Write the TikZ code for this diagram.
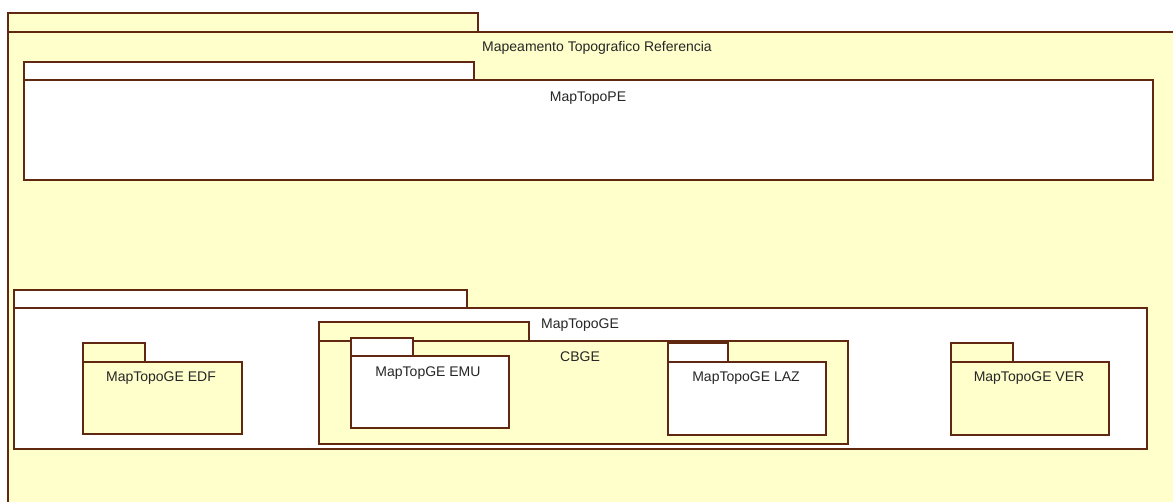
\documentclass[tikz,border=0pt]{standalone}
\usepackage{fontspec}
\setmainfont{Liberation Sans}
\definecolor{pk}{RGB}{255,255,204}
\definecolor{ln}{RGB}{96,40,16}
\tikzset{
  box/.style={draw=ln, line width=1.2pt, anchor=north west, inner sep=0pt, outer sep=0pt},
  yb/.style={box, fill=pk},
  wb/.style={box, fill=white},
  lbl/.style={font=\fontsize{14}{16}\selectfont, text=black!85, inner sep=0pt}
}
\begin{document}
\begin{tikzpicture}[x=1pt,y=-1pt]
\useasboundingbox (0,0) rectangle (1173,502);
\fill[white] (0,0) rectangle (1173,502);
\clip (0,0) rectangle (1173,502);
% outer package
\node[yb, minimum width=470pt, minimum height=19pt] (outtab) at (8,13) {};
\node[yb, minimum width=1182pt, minimum height=488pt] (out) at (8,32) {};
% MapTopoPE
\node[wb, minimum width=450pt, minimum height=18pt] (petab) at (24,62) {};
\node[wb, minimum width=1129pt, minimum height=100pt] (pe) at (24,80) {};
% MapTopoGE
\node[wb, minimum width=453pt, minimum height=18pt] (getab) at (14,290) {};
\node[wb, minimum width=1133pt, minimum height=141pt] (ge) at (14,308) {};
% EDF
\node[yb, minimum width=62pt, minimum height=19pt] (edftab) at (83,343) {};
\node[yb, minimum width=159pt, minimum height=72pt] (edf) at (83,362) {};
% CBGE
\node[yb, minimum width=210pt, minimum height=19pt] (cbtab) at (319,322) {};
\node[yb, minimum width=529pt, minimum height=103pt] (cb) at (319,341) {};
% EMU
\node[wb, minimum width=62pt, minimum height=18pt] (emutab) at (351,338) {};
\node[wb, minimum width=158pt, minimum height=72pt] (emu) at (351,356) {};
% LAZ
\node[wb, minimum width=60pt, minimum height=19pt] (laztab) at (668,343) {};
\node[wb, minimum width=158pt, minimum height=73pt] (laz) at (668,362) {};
% VER
\node[yb, minimum width=62pt, minimum height=19pt] (vertab) at (951,343) {};
\node[yb, minimum width=158pt, minimum height=73pt] (ver) at (951,362) {};
% labels
\node[lbl] (tout) at (597,48) {Mapeamento Topografico Referencia};
\node[lbl] (tpe) at (588,98) {MapTopoPE};
\node[lbl] (tge) at (580,325) {MapTopoGE};
\node[lbl] (tcb) at (580,357) {CBGE};
\node[lbl] (temu) at (428,373) {MapTopGE EMU};
\node[lbl] (tlaz) at (746,378) {MapTopoGE LAZ};
\node[lbl] (tedf) at (161,378) {MapTopoGE EDF};
\node[lbl] (tver) at (1029,378) {MapTopoGE VER};
\end{tikzpicture}
\end{document}
